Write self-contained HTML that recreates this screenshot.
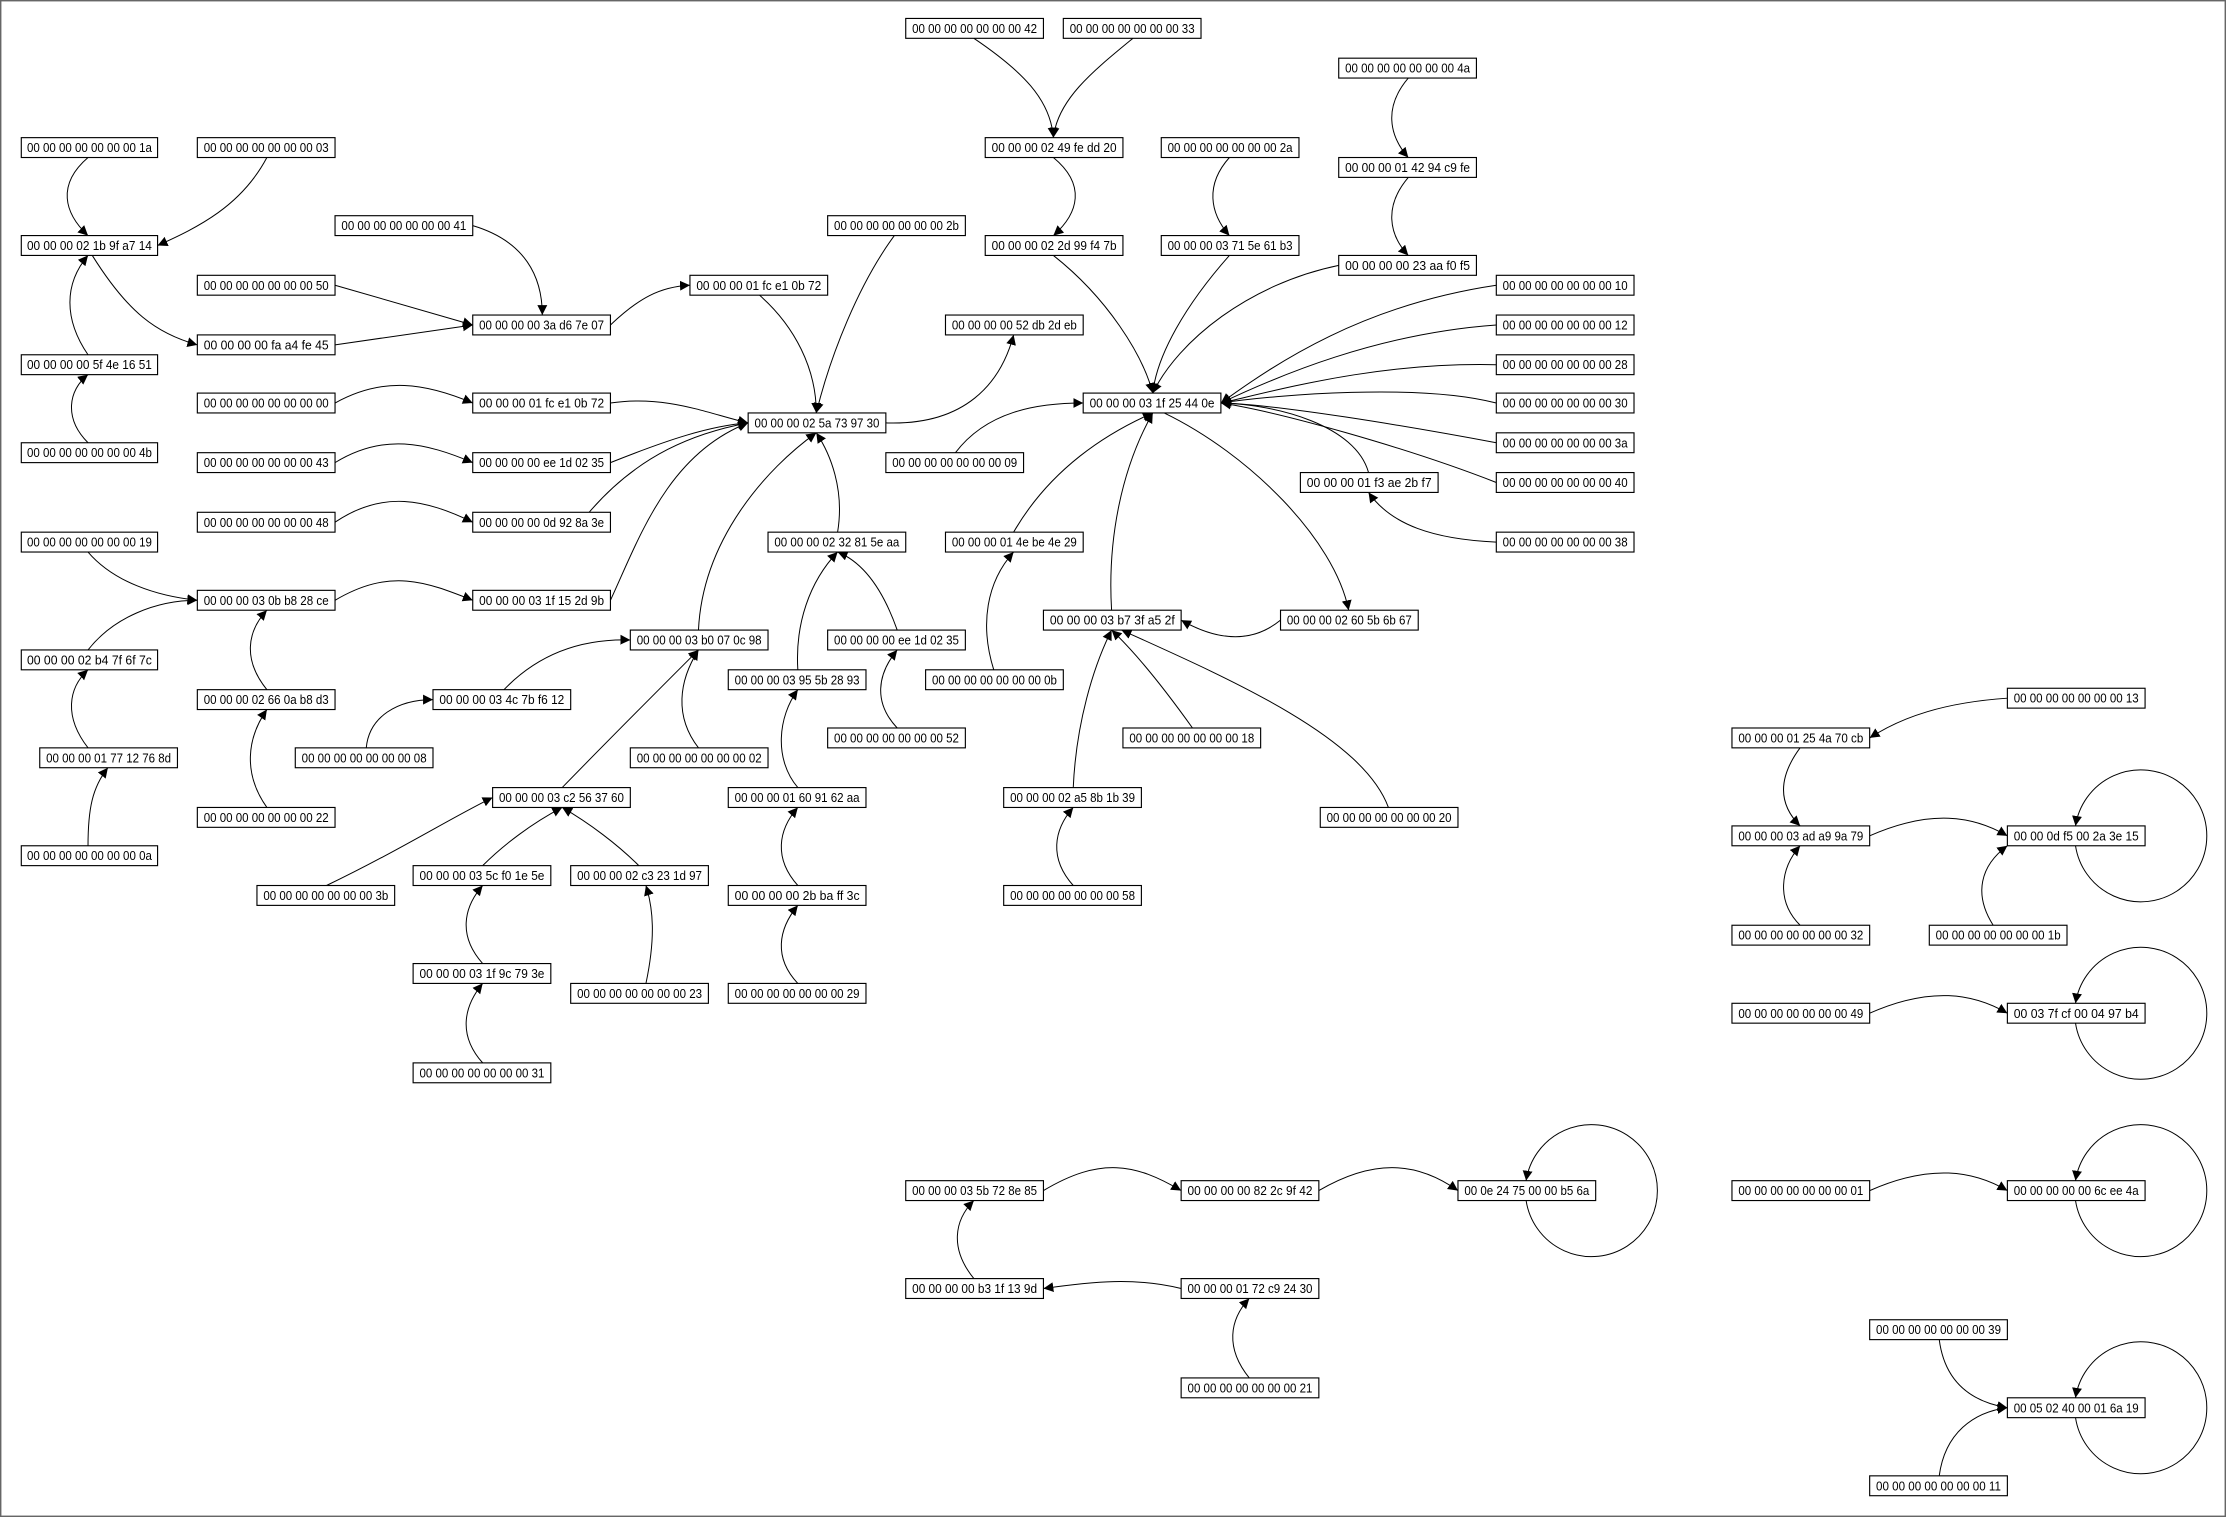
<!DOCTYPE html>
<html><head><meta charset="utf-8"><style>
html,body{margin:0;padding:0;background:#fff;}
svg{display:block;}
text{font-family:"Liberation Sans","IPAGothic",sans-serif;font-size:9px;fill:#000;}
rect.n{fill:#fff;stroke:#000;stroke-width:0.8;}
path{fill:none;stroke:#000;stroke-width:0.7;}
</style></head><body>
<svg width="2226" height="1517" viewBox="0 0 1568 1069" preserveAspectRatio="none" xmlns="http://www.w3.org/2000/svg">
<defs><marker id="a" markerUnits="userSpaceOnUse" markerWidth="8" markerHeight="8" refX="7" refY="3.5" orient="auto"><path d="M0,0 L7,3.5 L0,7 z" style="fill:#000;stroke:none"/></marker></defs>
<rect x="0.5" y="0.5" width="1567" height="1068" fill="#fff" stroke="#666" stroke-width="1"/>
<g marker-end="url(#a)">
<path d="M62,111 C40,130 45,150 62,166"/>
<path d="M188,111 C170,145 140,160 111,173"/>
<path d="M65,180 C90,220 110,235 139,243"/>
<path d="M62,250 C45,225 45,200 62,180"/>
<path d="M62,312 C45,295 48,275 62,264"/>
<path d="M333,159 C370,170 382,195 382,222"/>
<path d="M236,201 L333,229"/>
<path d="M236,243 L333,229"/>
<path d="M430,229 C450,210 465,202 486,201"/>
<path d="M535,208 C560,230 575,260 575,291"/>
<path d="M630,166 C605,200 585,250 575,291"/>
<path d="M624,298 C680,300 705,270 714,236"/>
<path d="M742,111 C765,130 760,150 742,166"/>
<path d="M686,27 C720,50 740,70 742,97"/>
<path d="M798,27 C770,50 745,70 742,97"/>
<path d="M992,55 C975,75 978,95 992,111"/>
<path d="M992,125 C975,145 978,165 992,180"/>
<path d="M866,111 C849,130 852,150 866,166"/>
<path d="M742,180 C780,210 805,250 812,277"/>
<path d="M866,180 C835,215 815,250 812,277"/>
<path d="M943,187 C880,200 830,240 812,277"/>
<path d="M1054,201 C960,215 900,255 860,284"/>
<path d="M1054,229 C970,235 900,265 860,284"/>
<path d="M1054,257 C970,255 900,275 860,284"/>
<path d="M1054,284 C1000,270 900,278 860,284"/>
<path d="M1054,312 C990,300 900,285 860,284"/>
<path d="M1054,340 C990,315 900,290 860,284"/>
<path d="M964,333 C955,300 900,285 860,284"/>
<path d="M1054,382 C1010,380 980,370 964,347"/>
<path d="M673,319 C695,290 730,284 763,284"/>
<path d="M714,375 C740,330 780,305 812,291"/>
<path d="M783,430 C780,380 790,330 812,291"/>
<path d="M820,291 C880,320 940,380 950,430"/>
<path d="M902,437 C880,455 855,450 832,437"/>
<path d="M700,472 C690,440 695,410 714,389"/>
<path d="M840,513 C820,485 800,460 783,444"/>
<path d="M978,569 C960,520 870,480 790,444"/>
<path d="M756,555 C758,510 770,470 783,444"/>
<path d="M756,624 C739,605 742,585 756,569"/>
<path d="M430,284 C470,278 500,292 527,298"/>
<path d="M236,284 C270,265 300,270 333,284"/>
<path d="M236,326 C270,305 300,312 333,326"/>
<path d="M236,368 C270,345 300,352 333,368"/>
<path d="M430,326 C470,310 500,300 527,298"/>
<path d="M415,361 C450,320 490,305 527,298"/>
<path d="M430,423 C450,380 470,320 527,298"/>
<path d="M492,444 C495,380 540,330 575,305"/>
<path d="M590,375 C595,345 585,320 575,305"/>
<path d="M632,444 C620,410 605,395 590,389"/>
<path d="M562,472 C560,440 570,410 590,389"/>
<path d="M632,513 C615,495 618,475 632,458"/>
<path d="M562,555 C545,535 548,505 562,486"/>
<path d="M562,624 C545,605 548,585 562,569"/>
<path d="M562,693 C545,675 548,655 562,638"/>
<path d="M62,389 C80,410 110,420 139,423"/>
<path d="M236,423 C275,400 300,410 333,423"/>
<path d="M62,458 C80,435 110,423 139,423"/>
<path d="M62,527 C45,505 48,485 62,472"/>
<path d="M62,596 C62,570 65,555 76,541"/>
<path d="M188,486 C171,465 174,445 188,430"/>
<path d="M188,569 C171,545 174,520 188,500"/>
<path d="M355,486 C380,460 410,450 444,451"/>
<path d="M258,527 C260,505 280,493 305,493"/>
<path d="M492,527 C475,505 478,480 492,458"/>
<path d="M396,555 C430,520 460,490 492,458"/>
<path d="M230,624 C280,600 320,575 347,562"/>
<path d="M340,610 C355,595 375,580 396,569"/>
<path d="M450,610 C435,595 415,580 396,569"/>
<path d="M340,679 C323,660 326,640 340,624"/>
<path d="M340,749 C323,730 326,710 340,693"/>
<path d="M455,693 C462,660 460,640 455,624"/>
<path d="M1414,492 C1370,495 1340,505 1317,520"/>
<path d="M1268,527 C1251,550 1254,568 1268,582"/>
<path d="M1317,589 C1360,570 1390,575 1414,589"/>
<path d="M1268,652 C1251,635 1254,612 1268,596"/>
<path d="M1404,652 C1390,630 1395,610 1414,596"/>
<path d="M1317,714 C1360,695 1390,700 1414,714"/>
<path d="M1317,839 C1360,820 1390,825 1414,839"/>
<path d="M1366,944 C1370,975 1390,988 1414,992"/>
<path d="M1366,1040 C1370,1010 1390,995 1414,992"/>
<path d="M735,839 C775,815 800,820 832,839"/>
<path d="M929,839 C970,815 1000,820 1027,839"/>
<path d="M832,908 C800,900 770,903 735,908"/>
<path d="M686,901 C669,880 672,860 686,846"/>
<path d="M880,971 C863,950 866,930 880,915"/>
<path d="M1462,596 A46.5,46.5 0 1 0 1462,582"/>
<path d="M1462,721 A46.5,46.5 0 1 0 1462,707"/>
<path d="M1462,846 A46.5,46.5 0 1 0 1462,832"/>
<path d="M1462,999 A46.5,46.5 0 1 0 1462,985"/>
<path d="M1075,846 A46.5,46.5 0 1 0 1075,832"/>
</g>
<g>
<rect class="n" x="638" y="13" width="97" height="14"/><text x="686.5" y="23.2" text-anchor="middle" textLength="88" lengthAdjust="spacingAndGlyphs">00 00 00 00 00 00 00 42</text>
<rect class="n" x="749" y="13" width="97" height="14"/><text x="797.5" y="23.2" text-anchor="middle" textLength="88" lengthAdjust="spacingAndGlyphs">00 00 00 00 00 00 00 33</text>
<rect class="n" x="694" y="97" width="97" height="14"/><text x="742.5" y="107.2" text-anchor="middle" textLength="88" lengthAdjust="spacingAndGlyphs">00 00 00 02 49 fe dd 20</text>
<rect class="n" x="943" y="41" width="97" height="14"/><text x="991.5" y="51.2" text-anchor="middle" textLength="88" lengthAdjust="spacingAndGlyphs">00 00 00 00 00 00 00 4a</text>
<rect class="n" x="943" y="111" width="97" height="14"/><text x="991.5" y="121.2" text-anchor="middle" textLength="88" lengthAdjust="spacingAndGlyphs">00 00 00 01 42 94 c9 fe</text>
<rect class="n" x="818" y="97" width="97" height="14"/><text x="866.5" y="107.2" text-anchor="middle" textLength="88" lengthAdjust="spacingAndGlyphs">00 00 00 00 00 00 00 2a</text>
<rect class="n" x="694" y="166" width="97" height="14"/><text x="742.5" y="176.2" text-anchor="middle" textLength="88" lengthAdjust="spacingAndGlyphs">00 00 00 02 2d 99 f4 7b</text>
<rect class="n" x="818" y="166" width="97" height="14"/><text x="866.5" y="176.2" text-anchor="middle" textLength="88" lengthAdjust="spacingAndGlyphs">00 00 00 03 71 5e 61 b3</text>
<rect class="n" x="943" y="180" width="97" height="14"/><text x="991.5" y="190.2" text-anchor="middle" textLength="88" lengthAdjust="spacingAndGlyphs">00 00 00 00 23 aa f0 f5</text>
<rect class="n" x="15" y="97" width="96" height="14"/><text x="63" y="107.2" text-anchor="middle" textLength="88" lengthAdjust="spacingAndGlyphs">00 00 00 00 00 00 00 1a</text>
<rect class="n" x="139" y="97" width="97" height="14"/><text x="187.5" y="107.2" text-anchor="middle" textLength="88" lengthAdjust="spacingAndGlyphs">00 00 00 00 00 00 00 03</text>
<rect class="n" x="15" y="166" width="96" height="14"/><text x="63" y="176.2" text-anchor="middle" textLength="88" lengthAdjust="spacingAndGlyphs">00 00 00 02 1b 9f a7 14</text>
<rect class="n" x="236" y="152" width="97" height="14"/><text x="284.5" y="162.2" text-anchor="middle" textLength="88" lengthAdjust="spacingAndGlyphs">00 00 00 00 00 00 00 41</text>
<rect class="n" x="139" y="194" width="97" height="14"/><text x="187.5" y="204.2" text-anchor="middle" textLength="88" lengthAdjust="spacingAndGlyphs">00 00 00 00 00 00 00 50</text>
<rect class="n" x="333" y="222" width="97" height="14"/><text x="381.5" y="232.2" text-anchor="middle" textLength="88" lengthAdjust="spacingAndGlyphs">00 00 00 00 3a d6 7e 07</text>
<rect class="n" x="139" y="236" width="97" height="14"/><text x="187.5" y="246.2" text-anchor="middle" textLength="88" lengthAdjust="spacingAndGlyphs">00 00 00 00 fa a4 fe 45</text>
<rect class="n" x="486" y="194" width="97" height="14"/><text x="534.5" y="204.2" text-anchor="middle" textLength="88" lengthAdjust="spacingAndGlyphs">00 00 00 01 fc e1 0b 72</text>
<rect class="n" x="583" y="152" width="97" height="14"/><text x="631.5" y="162.2" text-anchor="middle" textLength="88" lengthAdjust="spacingAndGlyphs">00 00 00 00 00 00 00 2b</text>
<rect class="n" x="666" y="222" width="97" height="14"/><text x="714.5" y="232.2" text-anchor="middle" textLength="88" lengthAdjust="spacingAndGlyphs">00 00 00 00 52 db 2d eb</text>
<rect class="n" x="15" y="250" width="96" height="14"/><text x="63" y="260.2" text-anchor="middle" textLength="88" lengthAdjust="spacingAndGlyphs">00 00 00 00 5f 4e 16 51</text>
<rect class="n" x="15" y="312" width="96" height="14"/><text x="63" y="322.2" text-anchor="middle" textLength="88" lengthAdjust="spacingAndGlyphs">00 00 00 00 00 00 00 4b</text>
<rect class="n" x="139" y="277" width="97" height="14"/><text x="187.5" y="287.2" text-anchor="middle" textLength="88" lengthAdjust="spacingAndGlyphs">00 00 00 00 00 00 00 00</text>
<rect class="n" x="333" y="277" width="97" height="14"/><text x="381.5" y="287.2" text-anchor="middle" textLength="88" lengthAdjust="spacingAndGlyphs">00 00 00 01 fc e1 0b 72</text>
<rect class="n" x="527" y="291" width="97" height="14"/><text x="575.5" y="301.2" text-anchor="middle" textLength="88" lengthAdjust="spacingAndGlyphs">00 00 00 02 5a 73 97 30</text>
<rect class="n" x="763" y="277" width="97" height="14"/><text x="811.5" y="287.2" text-anchor="middle" textLength="88" lengthAdjust="spacingAndGlyphs">00 00 00 03 1f 25 44 0e</text>
<rect class="n" x="1054" y="194" width="97" height="14"/><text x="1102.5" y="204.2" text-anchor="middle" textLength="88" lengthAdjust="spacingAndGlyphs">00 00 00 00 00 00 00 10</text>
<rect class="n" x="1054" y="222" width="97" height="14"/><text x="1102.5" y="232.2" text-anchor="middle" textLength="88" lengthAdjust="spacingAndGlyphs">00 00 00 00 00 00 00 12</text>
<rect class="n" x="1054" y="250" width="97" height="14"/><text x="1102.5" y="260.2" text-anchor="middle" textLength="88" lengthAdjust="spacingAndGlyphs">00 00 00 00 00 00 00 28</text>
<rect class="n" x="1054" y="277" width="97" height="14"/><text x="1102.5" y="287.2" text-anchor="middle" textLength="88" lengthAdjust="spacingAndGlyphs">00 00 00 00 00 00 00 30</text>
<rect class="n" x="1054" y="305" width="97" height="14"/><text x="1102.5" y="315.2" text-anchor="middle" textLength="88" lengthAdjust="spacingAndGlyphs">00 00 00 00 00 00 00 3a</text>
<rect class="n" x="1054" y="333" width="97" height="14"/><text x="1102.5" y="343.2" text-anchor="middle" textLength="88" lengthAdjust="spacingAndGlyphs">00 00 00 00 00 00 00 40</text>
<rect class="n" x="1054" y="375" width="97" height="14"/><text x="1102.5" y="385.2" text-anchor="middle" textLength="88" lengthAdjust="spacingAndGlyphs">00 00 00 00 00 00 00 38</text>
<rect class="n" x="916" y="333" width="97" height="14"/><text x="964.5" y="343.2" text-anchor="middle" textLength="88" lengthAdjust="spacingAndGlyphs">00 00 00 01 f3 ae 2b f7</text>
<rect class="n" x="624" y="319" width="97" height="14"/><text x="672.5" y="329.2" text-anchor="middle" textLength="88" lengthAdjust="spacingAndGlyphs">00 00 00 00 00 00 00 09</text>
<rect class="n" x="139" y="319" width="97" height="14"/><text x="187.5" y="329.2" text-anchor="middle" textLength="88" lengthAdjust="spacingAndGlyphs">00 00 00 00 00 00 00 43</text>
<rect class="n" x="333" y="319" width="97" height="14"/><text x="381.5" y="329.2" text-anchor="middle" textLength="88" lengthAdjust="spacingAndGlyphs">00 00 00 00 ee 1d 02 35</text>
<rect class="n" x="139" y="361" width="97" height="14"/><text x="187.5" y="371.2" text-anchor="middle" textLength="88" lengthAdjust="spacingAndGlyphs">00 00 00 00 00 00 00 48</text>
<rect class="n" x="333" y="361" width="97" height="14"/><text x="381.5" y="371.2" text-anchor="middle" textLength="88" lengthAdjust="spacingAndGlyphs">00 00 00 00 0d 92 8a 3e</text>
<rect class="n" x="541" y="375" width="97" height="14"/><text x="589.5" y="385.2" text-anchor="middle" textLength="88" lengthAdjust="spacingAndGlyphs">00 00 00 02 32 81 5e aa</text>
<rect class="n" x="666" y="375" width="97" height="14"/><text x="714.5" y="385.2" text-anchor="middle" textLength="88" lengthAdjust="spacingAndGlyphs">00 00 00 01 4e be 4e 29</text>
<rect class="n" x="15" y="375" width="96" height="14"/><text x="63" y="385.2" text-anchor="middle" textLength="88" lengthAdjust="spacingAndGlyphs">00 00 00 00 00 00 00 19</text>
<rect class="n" x="139" y="416" width="97" height="14"/><text x="187.5" y="426.2" text-anchor="middle" textLength="88" lengthAdjust="spacingAndGlyphs">00 00 00 03 0b b8 28 ce</text>
<rect class="n" x="333" y="416" width="97" height="14"/><text x="381.5" y="426.2" text-anchor="middle" textLength="88" lengthAdjust="spacingAndGlyphs">00 00 00 03 1f 15 2d 9b</text>
<rect class="n" x="444" y="444" width="97" height="14"/><text x="492.5" y="454.2" text-anchor="middle" textLength="88" lengthAdjust="spacingAndGlyphs">00 00 00 03 b0 07 0c 98</text>
<rect class="n" x="583" y="444" width="97" height="14"/><text x="631.5" y="454.2" text-anchor="middle" textLength="88" lengthAdjust="spacingAndGlyphs">00 00 00 00 ee 1d 02 35</text>
<rect class="n" x="735" y="430" width="97" height="14"/><text x="783.5" y="440.2" text-anchor="middle" textLength="88" lengthAdjust="spacingAndGlyphs">00 00 00 03 b7 3f a5 2f</text>
<rect class="n" x="902" y="430" width="97" height="14"/><text x="950.5" y="440.2" text-anchor="middle" textLength="88" lengthAdjust="spacingAndGlyphs">00 00 00 02 60 5b 6b 67</text>
<rect class="n" x="652" y="472" width="97" height="14"/><text x="700.5" y="482.2" text-anchor="middle" textLength="88" lengthAdjust="spacingAndGlyphs">00 00 00 00 00 00 00 0b</text>
<rect class="n" x="15" y="458" width="96" height="14"/><text x="63" y="468.2" text-anchor="middle" textLength="88" lengthAdjust="spacingAndGlyphs">00 00 00 02 b4 7f 6f 7c</text>
<rect class="n" x="139" y="486" width="97" height="14"/><text x="187.5" y="496.2" text-anchor="middle" textLength="88" lengthAdjust="spacingAndGlyphs">00 00 00 02 66 0a b8 d3</text>
<rect class="n" x="305" y="486" width="97" height="14"/><text x="353.5" y="496.2" text-anchor="middle" textLength="88" lengthAdjust="spacingAndGlyphs">00 00 00 03 4c 7b f6 12</text>
<rect class="n" x="513" y="472" width="97" height="14"/><text x="561.5" y="482.2" text-anchor="middle" textLength="88" lengthAdjust="spacingAndGlyphs">00 00 00 03 95 5b 28 93</text>
<rect class="n" x="583" y="513" width="97" height="14"/><text x="631.5" y="523.2" text-anchor="middle" textLength="88" lengthAdjust="spacingAndGlyphs">00 00 00 00 00 00 00 52</text>
<rect class="n" x="791" y="513" width="97" height="14"/><text x="839.5" y="523.2" text-anchor="middle" textLength="88" lengthAdjust="spacingAndGlyphs">00 00 00 00 00 00 00 18</text>
<rect class="n" x="28" y="527" width="97" height="14"/><text x="76.5" y="537.2" text-anchor="middle" textLength="88" lengthAdjust="spacingAndGlyphs">00 00 00 01 77 12 76 8d</text>
<rect class="n" x="208" y="527" width="97" height="14"/><text x="256.5" y="537.2" text-anchor="middle" textLength="88" lengthAdjust="spacingAndGlyphs">00 00 00 00 00 00 00 08</text>
<rect class="n" x="444" y="527" width="97" height="14"/><text x="492.5" y="537.2" text-anchor="middle" textLength="88" lengthAdjust="spacingAndGlyphs">00 00 00 00 00 00 00 02</text>
<rect class="n" x="347" y="555" width="97" height="14"/><text x="395.5" y="565.2" text-anchor="middle" textLength="88" lengthAdjust="spacingAndGlyphs">00 00 00 03 c2 56 37 60</text>
<rect class="n" x="513" y="555" width="97" height="14"/><text x="561.5" y="565.2" text-anchor="middle" textLength="88" lengthAdjust="spacingAndGlyphs">00 00 00 01 60 91 62 aa</text>
<rect class="n" x="707" y="555" width="97" height="14"/><text x="755.5" y="565.2" text-anchor="middle" textLength="88" lengthAdjust="spacingAndGlyphs">00 00 00 02 a5 8b 1b 39</text>
<rect class="n" x="930" y="569" width="97" height="14"/><text x="978.5" y="579.2" text-anchor="middle" textLength="88" lengthAdjust="spacingAndGlyphs">00 00 00 00 00 00 00 20</text>
<rect class="n" x="139" y="569" width="97" height="14"/><text x="187.5" y="579.2" text-anchor="middle" textLength="88" lengthAdjust="spacingAndGlyphs">00 00 00 00 00 00 00 22</text>
<rect class="n" x="15" y="596" width="96" height="14"/><text x="63" y="606.2" text-anchor="middle" textLength="88" lengthAdjust="spacingAndGlyphs">00 00 00 00 00 00 00 0a</text>
<rect class="n" x="181" y="624" width="97" height="14"/><text x="229.5" y="634.2" text-anchor="middle" textLength="88" lengthAdjust="spacingAndGlyphs">00 00 00 00 00 00 00 3b</text>
<rect class="n" x="291" y="610" width="97" height="14"/><text x="339.5" y="620.2" text-anchor="middle" textLength="88" lengthAdjust="spacingAndGlyphs">00 00 00 03 5c f0 1e 5e</text>
<rect class="n" x="402" y="610" width="97" height="14"/><text x="450.5" y="620.2" text-anchor="middle" textLength="88" lengthAdjust="spacingAndGlyphs">00 00 00 02 c3 23 1d 97</text>
<rect class="n" x="513" y="624" width="97" height="14"/><text x="561.5" y="634.2" text-anchor="middle" textLength="88" lengthAdjust="spacingAndGlyphs">00 00 00 00 2b ba ff 3c</text>
<rect class="n" x="707" y="624" width="97" height="14"/><text x="755.5" y="634.2" text-anchor="middle" textLength="88" lengthAdjust="spacingAndGlyphs">00 00 00 00 00 00 00 58</text>
<rect class="n" x="291" y="679" width="97" height="14"/><text x="339.5" y="689.2" text-anchor="middle" textLength="88" lengthAdjust="spacingAndGlyphs">00 00 00 03 1f 9c 79 3e</text>
<rect class="n" x="402" y="693" width="97" height="14"/><text x="450.5" y="703.2" text-anchor="middle" textLength="88" lengthAdjust="spacingAndGlyphs">00 00 00 00 00 00 00 23</text>
<rect class="n" x="513" y="693" width="97" height="14"/><text x="561.5" y="703.2" text-anchor="middle" textLength="88" lengthAdjust="spacingAndGlyphs">00 00 00 00 00 00 00 29</text>
<rect class="n" x="291" y="749" width="97" height="14"/><text x="339.5" y="759.2" text-anchor="middle" textLength="88" lengthAdjust="spacingAndGlyphs">00 00 00 00 00 00 00 31</text>
<rect class="n" x="1414" y="485" width="97" height="14"/><text x="1462.5" y="495.2" text-anchor="middle" textLength="88" lengthAdjust="spacingAndGlyphs">00 00 00 00 00 00 00 13</text>
<rect class="n" x="1220" y="513" width="97" height="14"/><text x="1268.5" y="523.2" text-anchor="middle" textLength="88" lengthAdjust="spacingAndGlyphs">00 00 00 01 25 4a 70 cb</text>
<rect class="n" x="1220" y="582" width="97" height="14"/><text x="1268.5" y="592.2" text-anchor="middle" textLength="88" lengthAdjust="spacingAndGlyphs">00 00 00 03 ad a9 9a 79</text>
<rect class="n" x="1414" y="582" width="97" height="14"/><text x="1462.5" y="592.2" text-anchor="middle" textLength="88" lengthAdjust="spacingAndGlyphs">00 00 0d f5 00 2a 3e 15</text>
<rect class="n" x="1220" y="652" width="97" height="14"/><text x="1268.5" y="662.2" text-anchor="middle" textLength="88" lengthAdjust="spacingAndGlyphs">00 00 00 00 00 00 00 32</text>
<rect class="n" x="1359" y="652" width="97" height="14"/><text x="1407.5" y="662.2" text-anchor="middle" textLength="88" lengthAdjust="spacingAndGlyphs">00 00 00 00 00 00 00 1b</text>
<rect class="n" x="1220" y="707" width="97" height="14"/><text x="1268.5" y="717.2" text-anchor="middle" textLength="88" lengthAdjust="spacingAndGlyphs">00 00 00 00 00 00 00 49</text>
<rect class="n" x="1414" y="707" width="97" height="14"/><text x="1462.5" y="717.2" text-anchor="middle" textLength="88" lengthAdjust="spacingAndGlyphs">00 03 7f cf 00 04 97 b4</text>
<rect class="n" x="1220" y="832" width="97" height="14"/><text x="1268.5" y="842.2" text-anchor="middle" textLength="88" lengthAdjust="spacingAndGlyphs">00 00 00 00 00 00 00 01</text>
<rect class="n" x="1414" y="832" width="97" height="14"/><text x="1462.5" y="842.2" text-anchor="middle" textLength="88" lengthAdjust="spacingAndGlyphs">00 00 00 00 00 6c ee 4a</text>
<rect class="n" x="1317" y="930" width="97" height="14"/><text x="1365.5" y="940.2" text-anchor="middle" textLength="88" lengthAdjust="spacingAndGlyphs">00 00 00 00 00 00 00 39</text>
<rect class="n" x="1414" y="985" width="97" height="14"/><text x="1462.5" y="995.2" text-anchor="middle" textLength="88" lengthAdjust="spacingAndGlyphs">00 05 02 40 00 01 6a 19</text>
<rect class="n" x="1317" y="1040" width="97" height="14"/><text x="1365.5" y="1050.2" text-anchor="middle" textLength="88" lengthAdjust="spacingAndGlyphs">00 00 00 00 00 00 00 11</text>
<rect class="n" x="638" y="832" width="97" height="14"/><text x="686.5" y="842.2" text-anchor="middle" textLength="88" lengthAdjust="spacingAndGlyphs">00 00 00 03 5b 72 8e 85</text>
<rect class="n" x="832" y="832" width="97" height="14"/><text x="880.5" y="842.2" text-anchor="middle" textLength="88" lengthAdjust="spacingAndGlyphs">00 00 00 00 82 2c 9f 42</text>
<rect class="n" x="1027" y="832" width="97" height="14"/><text x="1075.5" y="842.2" text-anchor="middle" textLength="88" lengthAdjust="spacingAndGlyphs">00 0e 24 75 00 00 b5 6a</text>
<rect class="n" x="638" y="901" width="97" height="14"/><text x="686.5" y="911.2" text-anchor="middle" textLength="88" lengthAdjust="spacingAndGlyphs">00 00 00 00 b3 1f 13 9d</text>
<rect class="n" x="832" y="901" width="97" height="14"/><text x="880.5" y="911.2" text-anchor="middle" textLength="88" lengthAdjust="spacingAndGlyphs">00 00 00 01 72 c9 24 30</text>
<rect class="n" x="832" y="971" width="97" height="14"/><text x="880.5" y="981.2" text-anchor="middle" textLength="88" lengthAdjust="spacingAndGlyphs">00 00 00 00 00 00 00 21</text>
</g>
</svg>
</body></html>
